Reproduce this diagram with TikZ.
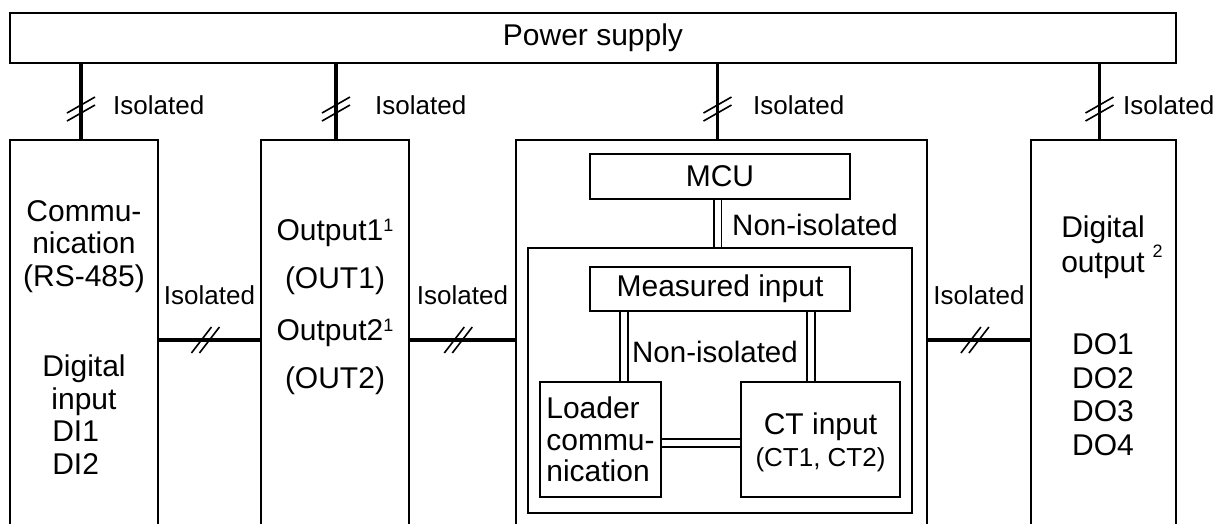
\documentclass[tikz,border=0pt]{standalone}
\usepackage{fontspec}
\setmainfont{Liberation Sans}
\usetikzlibrary{positioning, calc}
\newcommand{\upnum}[2]{\raisebox{#1}{\fontsize{18}{18}\selectfont #2}}

\begin{document}
\begin{tikzpicture}[
    x=1pt, y=-1pt,
    block/.style={rectangle, draw, line width=1.8pt, minimum height=400pt, inner sep=0pt},
    box/.style={rectangle, draw, line width=1.8pt, inner sep=0pt, font=\fontsize{30}{32}\selectfont},
    txt/.style={inner sep=0pt, align=center, font=\fontsize{30}{32.5}\selectfont},
    lbl/.style={inner sep=0pt, font=\fontsize{29.5}{32}\selectfont},
    iso/.style={inner sep=0pt, font=\fontsize{26}{28}\selectfont},
    bus/.style={line width=3.5pt},
    dbl/.style={double, double distance=6pt, line width=1.8pt},
    isoline/.style={line width=1.6pt},
    vcut/.pic={\draw[isoline] (-14,4) -- (14,-12) (-14,12) -- (14,-4);},
    hcut/.pic={\draw[isoline] (-14,13) -- (6,-13) (-6,13) -- (14,-13);}
]
\useasboundingbox (0,0) rectangle (1218,524);
\clip (0,0) rectangle (1218,524);

% Nodes
\node (ps) [box, minimum width=1166pt, minimum height=50pt] at (593,38) {Power supply};
\node (comm) [block, minimum width=148pt] at (84,340) {};
\node (out) [block, minimum width=148pt] at (335,340) {};
\node (ctr) [block, minimum width=411pt] at (721.5,340) {};
\node (dout) [block, minimum width=145pt] at (1103.5,340) {};

\node (commtxt) [txt, anchor=north] at (84,200) {Commu-\\nication\\(RS-485)\\[58pt]Digital\\input\\DI1\phantom{0}\\DI2\phantom{0}};
\node (outtxt) [txt, anchor=north, font=\fontsize{30}{48}\selectfont] at (335,219) {Output1\upnum{8.5pt}{1}\\(OUT1)\\[4pt]Output2\upnum{8.5pt}{1}\\(OUT2)};
\node (dotxt) [txt, anchor=north, font=\fontsize{30}{33.5}\selectfont] at (1103,216) {Digital\\output\rlap{\hspace{8pt}\upnum{15pt}{2}}\\[48.5pt]DO1\\DO2\\DO3\\DO4};

% Inside the centre block
\node (mcu) [box, minimum width=260pt, minimum height=45pt] at (720,176.5) {MCU};
\node (inner) [box, minimum width=384pt, minimum height=265pt] at (720,380.5) {};
\node (meas) [box, minimum width=260pt, minimum height=44pt] at (720,289) {Measured input};
\node (loader) [box, minimum width=121pt, minimum height=115pt, align=left, font=\fontsize{30}{31.5}\selectfont] at (600.5,439.5) {Loader\\commu-\\nication};
\node (ct) [box, minimum width=159pt, minimum height=115pt, align=center] at (820.5,439.5) {\rule{0pt}{28pt}CT input\\{\fontsize{26}{28}\selectfont (CT1, CT2)}};
\node (nonis1) [lbl, anchor=west] at (732,224.5) {Non-isolated};
\node (nonis2) [lbl] at (715,352) {Non-isolated};

\node (iso1) [iso, anchor=west] at (113,105) {Isolated};
\node (iso2) [iso, anchor=west] at (375,105) {Isolated};
\node (iso3) [iso, anchor=west] at (753,105) {Isolated};
\node (iso4) [iso, anchor=west] at (1123,105) {Isolated};

% Power lines
\draw [bus] ([xshift=-3pt]comm.north |- ps.south) -- ([xshift=-3pt]comm.north) coordinate[pos=0.6] (cut1);
\draw [bus] ([xshift=1pt]out.north |- ps.south) -- ([xshift=1pt]out.north) coordinate[pos=0.6] (cut2);
\draw [bus] ([xshift=-4pt]ctr.north |- ps.south) -- ([xshift=-4pt]ctr.north) coordinate[pos=0.6] (cut3);
\draw [bus] ([xshift=-4pt]dout.north |- ps.south) -- ([xshift=-4pt]dout.north) coordinate[pos=0.6] (cut4);
\pic at (cut1) {vcut};
\pic at (cut2) {vcut};
\pic at (cut3) {vcut};
\pic at (cut4) {vcut};

% Links between blocks
\draw [bus] (comm.east) -- node[iso, above=33pt] {Isolated} (out.west) coordinate[pos=0.46] (cut5);
\draw [bus] (out.east) -- node[iso, above=33pt] {Isolated} (ctr.west) coordinate[pos=0.46] (cut6);
\draw [bus] (ctr.east) -- node[iso, above=33pt] {Isolated} (dout.west) coordinate[pos=0.46] (cut7);
\pic at (cut5) {hcut};
\pic at (cut6) {hcut};
\pic at (cut7) {hcut};

% Non-isolated links
\draw [dbl] ([xshift=-2.5pt]mcu.south) -- ([xshift=-2.5pt]mcu.south |- inner.north);
\draw [dbl] ([xshift=23.5pt]loader.north) -- ([xshift=23.5pt]loader.north |- meas.south);
\draw [dbl] ([xshift=-9.5pt]ct.north) -- ([xshift=-9.5pt]ct.north |- meas.south);
\draw [dbl] ([yshift=-3.5pt]loader.east) -- ([yshift=-3.5pt]loader.east -| ct.west);

\end{tikzpicture}
\end{document}
